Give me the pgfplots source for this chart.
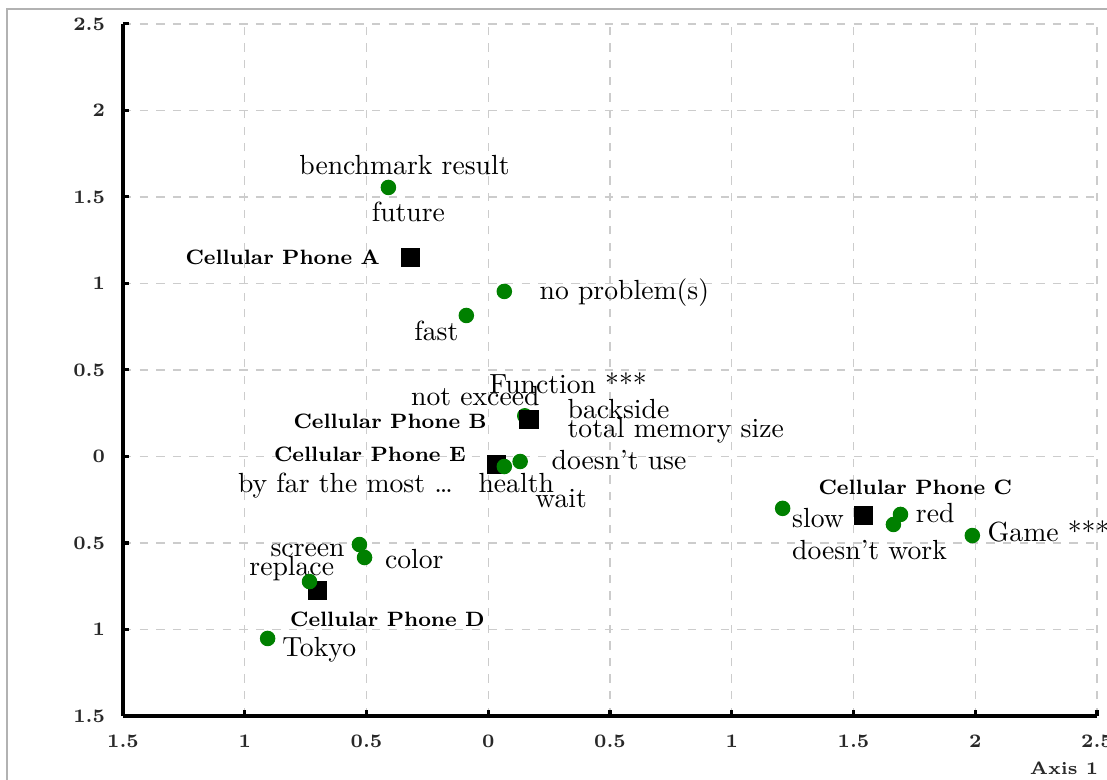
\documentclass[border=0pt]{standalone}
\usepackage{pgfplots}
\pgfplotsset{compat=1.18}
\definecolor{dotgreen}{RGB}{0,128,0}
\definecolor{txt}{RGB}{40,40,40}
\begin{document}
\begin{tikzpicture}
\useasboundingbox (0,0) rectangle (400pt,281.84pt);
\draw[gray!60, line width=0.8pt] (2.53pt,0) -- (2.53pt,278.59pt) -- (400pt,278.59pt);
\begin{axis}[
  at={(44.44pt,23.13pt)}, anchor=south west,
  scale only axis, width=351.95pt, height=250.05pt,
  xmin=-1.5, xmax=2.5, ymin=-1.5, ymax=2.5,
  axis x line*=bottom, axis y line*=left,
  axis line style={line width=1.1pt, black, -},
  tick align=inside, major tick length=2pt,
  tick style={line width=1.1pt, black},
  xtick={-1.5,-1,-0.5,0,0.5,1,1.5,2,2.5},
  xticklabels={1.5,1,0.5,0,0.5,1,1.5,2,2.5},
  ytick={-1.5,-1,-0.5,0,0.5,1,1.5,2,2.5},
  yticklabels={1.5,1,0.5,0,0.5,1,1.5,2,2.5},
  ticklabel style={font=\fontsize{6.9}{8}\selectfont\bfseries, text=txt},
  /pgf/number format/assume math mode=true,
  xticklabel style={yshift=-3.5pt},
  yticklabel style={xshift=-3pt},
  grid=major,
  major grid style={dashed, gray!40, line width=0.5pt},
  xlabel={\bfseries Axis 1},
  xlabel style={at={(rel axis cs:1,0)}, anchor=north east, yshift=-13pt, xshift=4pt, font=\fontsize{6.4}{7}\selectfont, text=txt},
  clip=false,
  every node/.append style={text=txt},
]
% dot hidden behind phone B
\addplot[only marks, mark=*, mark size=2.6pt, color=dotgreen] coordinates {(0.15,0.235)};
% phones
\addplot[only marks, mark=square*, mark size=3.3pt, color=black] coordinates {
(-0.32,1.15) (0.168,0.214) (0.033,-0.046) (1.541,-0.341) (-0.70,-0.775)};
% words
\addplot[only marks, mark=*, mark size=2.6pt, color=dotgreen] coordinates {
(-0.41,1.555) (0.066,0.954) (-0.09,0.815) (0.131,-0.029) (0.066,-0.058)
(1.209,-0.30) (1.693,-0.335) (1.664,-0.393) (1.988,-0.457)
(-0.529,-0.509) (-0.508,-0.584) (-0.734,-0.723) (-0.906,-1.052)};
\begin{scope}[every node/.append style={inner sep=0pt}]
\node at (axis cs:-0.344,1.682) {benchmark result};
\node at (axis cs:-0.328,1.416) {future};
\node[anchor=east, font=\fontsize{7.5}{9}\selectfont\bfseries] at (axis cs:-0.443,1.150) {Cellular Phone A};
\node[anchor=west] at (axis cs:0.209,0.948) {no problem(s)};
\node at (axis cs:-0.213,0.728) {fast};
\node at (axis cs:0.328,0.422) {Function ***};
\node at (axis cs:-0.053,0.347) {not exceed};
\node[anchor=west] at (axis cs:0.324,0.277) {backside};
\node[anchor=west] at (axis cs:0.324,0.150) {total memory size};
\node[anchor=east, font=\fontsize{7.5}{9}\selectfont\bfseries] at (axis cs:-0.004,0.202) {Cellular Phone B};
\node[anchor=east, font=\fontsize{7.5}{9}\selectfont\bfseries] at (axis cs:-0.090,0.012) {Cellular Phone E};
\node[anchor=west] at (axis cs:0.258,-0.023) {doesn't use};
\node[anchor=east] at (axis cs:-0.143,-0.168) {by far the most \dots};
\node at (axis cs:0.115,-0.156) {health};
\node at (axis cs:0.299,-0.243) {wait};
\node[font=\fontsize{7.5}{9}\selectfont\bfseries] at (axis cs:1.754,-0.179) {Cellular Phone C};
\node[anchor=west] at (axis cs:1.246,-0.358) {slow};
\node[anchor=west] at (axis cs:1.754,-0.329) {red};
\node[anchor=west] at (axis cs:2.049,-0.434) {Game ***};
\node[anchor=west] at (axis cs:1.246,-0.543) {doesn't work};
\node at (axis cs:-0.742,-0.543) {screen};
\node at (axis cs:-0.807,-0.647) {replace};
\node[anchor=west] at (axis cs:-0.426,-0.590) {color};
\node[font=\fontsize{7.5}{9}\selectfont\bfseries] at (axis cs:-0.414,-0.942) {Cellular Phone D};
\node[anchor=west] at (axis cs:-0.848,-1.116) {Tokyo};
\end{scope}
\end{axis}
\end{tikzpicture}
\end{document}
